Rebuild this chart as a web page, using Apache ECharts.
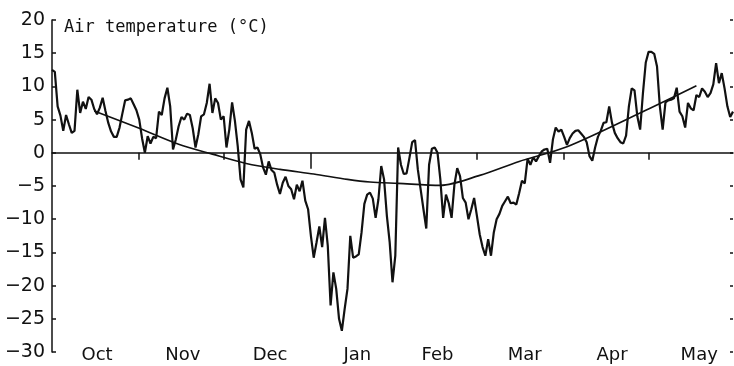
<!DOCTYPE html>
<html>
<head>
<meta charset="utf-8">
<script src="https://cdn.jsdelivr.net/npm/echarts@6/dist/echarts.min.js"></script>
<style>
html, body { margin: 0; padding: 0; background: #fff; }
#chart { width: 734px; height: 366px; }
</style>
</head>
<body>
<div id="chart"></div>
<script>
// Day index 0 = 1 October, last day = 31 May
const monthNames = ['Oct', 'Nov', 'Dec', 'Jan', 'Feb', 'Mar', 'Apr', 'May'];
const monthLabelDays = [16, 46.5, 77.5, 108.5, 137, 168, 199, 230];
const monthStartDays = [31, 61, 92, 123, 151, 182, 212];
const yearStartDays = [92];
const lastDay = 242;

const yMin = -30;
const yMax = 20;
const yStep = 5;

// Daily mean air temperature (°C), one value per day from 1 October
const dailyTemp = [
  12.5, 12.2, 7.0, 5.6, 3.3, 5.7, 4.3, 3.0, 3.3, 9.5,
  6.0, 7.7, 6.6, 8.4, 8.0, 6.6, 5.8, 6.8, 8.3, 6.3,
  4.5, 3.2, 2.4, 2.4, 3.8, 5.9, 7.9, 8.0, 8.2, 7.3,
  6.4,
  5.0, 2.2, 0.0, 2.5, 1.4, 2.4, 2.2, 6.2, 5.7, 8.2,
  9.8, 7.0, 0.5, 2.0, 4.0, 5.4, 5.0, 5.9, 5.7, 3.7,
  0.8, 2.8, 5.5, 5.8,
  7.5, 10.4, 6.0, 8.2, 7.5, 5.0,
  5.5, 0.8, 3.5, 7.6, 4.8, 1.0, -4.0, -5.2, 3.5, 4.8, 3.0,
  0.6, 0.8, -0.2, -2.2, -3.3, -1.3, -2.6, -3.0, -4.8, -6.2,
  -4.5, -3.6, -5.0, -5.5, -7.0, -4.8, -5.8, -4.2, -7.2, -8.5,
  -12.5, -15.8, -13.5, -11.1, -14.2, -9.8, -14.0, -23.0, -18.0, -20.5,
  -25.0, -26.8, -23.5, -20.5, -12.5, -15.8, -15.6, -15.3, -12.0, -7.7,
  -6.3, -6.0, -6.9, -9.8, -7.0, -2.0, -4.0, -9.5, -13.5, -19.5,
  -15.5,
  0.8, -1.8, -3.2, -3.1, -0.8, 1.6, 1.9, -2.5, -5.5, -8.5,
  -11.4, -1.8, 0.6, 0.8, 0.0, -4.0, -9.8, -6.3, -7.6, -9.8,
  -4.8, -2.3, -3.5, -6.8, -7.5, -10.0, -8.5, -6.8, -9.5, -12.3,
  -14.2, -15.5, -13.0, -15.5, -12.0, -10.0, -9.2, -8.0, -7.3, -6.6,
  -7.6, -7.5, -7.8, -6.1, -4.2, -4.6, -0.9, -1.8, -0.7, -1.3,
  -0.5, 0.2, 0.5, 0.6, -1.5, 2.0, 3.8, 3.2, 3.5, 2.4,
  1.2,
  2.2, 2.9, 3.3, 3.4, 2.9, 2.4, 1.6, -0.5, -1.2, 0.8,
  2.4, 3.3, 4.5, 4.6, 7.0, 4.5, 3.0, 2.2, 1.6, 1.4,
  2.6, 7.0, 9.7, 9.4, 5.5, 3.5, 9.0, 13.6, 15.2, 15.2,
  14.9, 13.0, 7.0, 3.5, 7.6, 7.9, 8.0, 8.2, 9.8, 6.2,
  5.5, 3.8, 7.5, 6.7, 6.4, 8.7, 8.4, 9.7, 9.2, 8.4,
  9.0, 10.3, 13.5, 10.5, 12.0, 9.7, 7.0, 5.4, 6.2
];

// Long-term mean seasonal curve: [day, °C]
const meanDays = [15, 31, 45, 57, 69, 81, 93, 105, 113, 123, 138, 152, 166, 183, 211, 229];
const meanTemp = [6.3, 3.7, 1.3, -0.2, -1.6, -2.5, -3.2, -4.0, -4.4, -4.6, -4.9, -3.4, -1.3, 0.9, 6.4, 10.1];

const FONT = 'DejaVu Sans';
const INK = '#111';

const chart = echarts.init(document.getElementById('chart'), null, { renderer: 'canvas' });

const xBase = { type: 'value', min: 0, max: lastDay, splitLine: { show: false } };

chart.setOption({
  animation: false,
  backgroundColor: '#fff',
  title: {
    text: 'Air temperature (°C)',
    left: 64,
    top: 19,
    padding: 0,
    textStyle: { fontFamily: 'DejaVu Sans Mono', fontSize: 17, fontWeight: 'normal', color: INK }
  },
  grid: { left: 52, right: 1, top: 20, bottom: 14, containLabel: false },
  xAxis: [
    Object.assign({}, xBase, {
      position: 'bottom',
      axisLine: { show: false, onZero: false },
      axisTick: { show: false },
      axisLabel: {
        show: true,
        customValues: monthLabelDays,
        formatter: v => monthNames[monthLabelDays.indexOf(v)],
        fontFamily: FONT, fontSize: 18, color: INK, margin: -6
      }
    }),
    Object.assign({}, xBase, {
      position: 'bottom',
      axisLine: { show: true, onZero: true, onZeroAxisIndex: 0, lineStyle: { color: INK, width: 1.5 } },
      axisTick: { show: true, customValues: monthStartDays, length: 7, lineStyle: { color: INK, width: 1.5 } },
      axisLabel: { show: false }
    }),
    Object.assign({}, xBase, {
      position: 'bottom',
      axisLine: { show: false, onZero: true, onZeroAxisIndex: 0 },
      axisTick: { show: true, customValues: yearStartDays, length: 16, lineStyle: { color: INK, width: 1.5 } },
      axisLabel: { show: false }
    })
  ],
  yAxis: [
    {
      type: 'value', min: yMin, max: yMax, interval: yStep, position: 'left',
      axisLine: { show: true, onZero: false, lineStyle: { color: INK, width: 1.5 } },
      axisTick: { show: true, inside: true, length: 4, lineStyle: { color: INK, width: 1.5 } },
      axisLabel: {
        fontFamily: FONT, fontSize: 19, color: INK, margin: 7,
        formatter: v => (v < 0 ? '\u2212' + Math.abs(v) : String(v))
      },
      splitLine: { show: false }
    },
    {
      type: 'value', min: yMin, max: yMax, interval: yStep, position: 'right',
      axisLine: { show: false, onZero: false },
      axisTick: { show: true, inside: true, length: 3, lineStyle: { color: INK, width: 1.5 } },
      axisLabel: { show: false },
      splitLine: { show: false }
    }
  ],
  series: [
    {
      name: 'daily',
      type: 'line',
      xAxisIndex: 1,
      yAxisIndex: 0,
      data: dailyTemp.map((t, d) => [d, t]),
      showSymbol: false,
      symbol: 'none',
      lineStyle: { color: INK, width: 2.2 },
      z: 3
    },
    {
      name: 'mean',
      type: 'line',
      xAxisIndex: 1,
      yAxisIndex: 0,
      data: meanDays.map((d, i) => [d, meanTemp[i]]),
      showSymbol: false,
      symbol: 'none',
      smooth: 0.3,
      lineStyle: { color: INK, width: 1.6 },
      z: 2
    }
  ]
});
</script>
</body>
</html>
